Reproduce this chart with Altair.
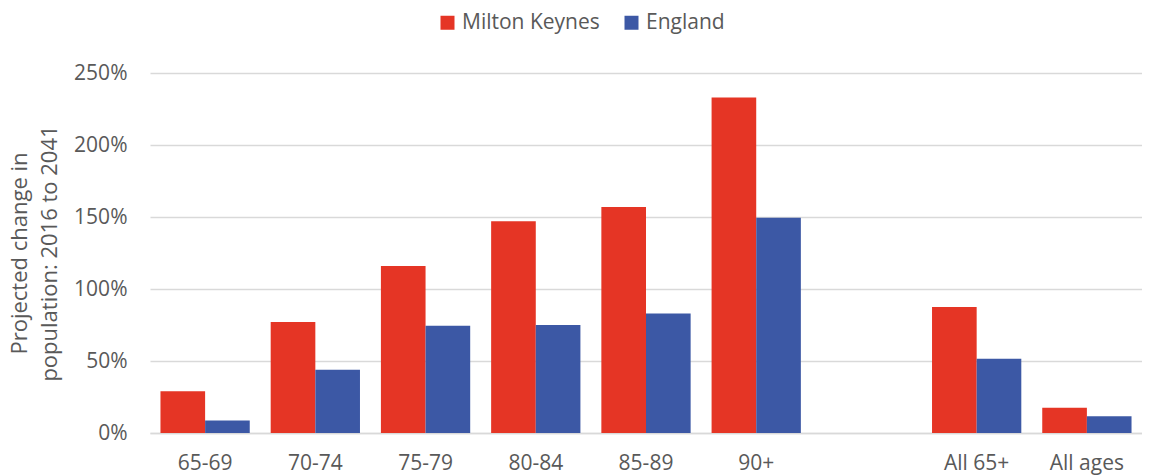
import altair as alt
import pandas as pd

categories = ["65-69", "70-74", "75-79", "80-84", "85-89", "90+", "All 65+", "All ages"]
axis_order = ["65-69", "70-74", "75-79", "80-84", "85-89", "90+", " ", "All 65+", "All ages"]
milton_keynes = [29, 77, 116, 147, 157, 233, 87.5, 17.5]
england = [8.7, 44, 74.5, 75, 83, 149.5, 51.5, 11.7]
series = ["Milton Keynes", "England"]
colors = ["#E53525", "#3C58A5"]
y_ticks = [0, 50, 100, 150, 200, 250]

rows = []
for c, a, b in zip(categories, milton_keynes, england):
    rows.append({"age": c, "series": series[0], "value": a})
    rows.append({"age": c, "series": series[1], "value": b})
df = pd.DataFrame(rows)

FONT = "Open Sans"
TEXT = "#595959"
GRID = "#D9D9D9"

chart = alt.Chart(df).mark_bar().encode(
    x=alt.X(
        "age:N",
        sort=axis_order,
        scale=alt.Scale(domain=axis_order, paddingInner=0.19, paddingOuter=0.095),
        axis=alt.Axis(
            title=None, labelAngle=0, labelFontSize=21, labelColor=TEXT, labelFont=FONT,
            labelPadding=19, ticks=False, domainColor=GRID, domainWidth=1.5, grid=False,
        ),
    ),
    xOffset=alt.XOffset("series:N", sort=series, scale=alt.Scale(domain=series)),
    y=alt.Y(
        "value:Q",
        scale=alt.Scale(domain=[0, 250]),
        axis=alt.Axis(
            values=y_ticks, labelExpr="datum.value + '%'",
            title=["Projected change in", "population: 2016 to 2041"],
            domain=False, ticks=False, grid=True, gridColor=GRID, gridWidth=1.5,
            labelPadding=23, labelFontSize=21, labelColor=TEXT, labelFont=FONT,
            titleFontSize=22, titleFont=FONT, titleFontWeight="normal", titleColor=TEXT,
            titleAngle=270, titleAlign="center", titleBaseline="alphabetic",
            titleX=-124, titleY=180, titleLineHeight=30,
        ),
    ),
    color=alt.Color(
        "series:N",
        sort=series,
        scale=alt.Scale(domain=series, range=colors),
        legend=alt.Legend(
            title=None, orient="none", legendX=287, legendY=-61, direction="horizontal",
            symbolType="square", symbolSize=196, symbolStrokeWidth=0,
            labelFontSize=21, labelColor=TEXT, labelFont=FONT, labelOffset=4,
            columnPadding=21, padding=0,
        ),
    ),
).properties(
    width=992,
    height=360,
    autosize=alt.AutoSizeParams(type="none"),
    padding={"left": 142, "top": 65, "right": 0, "bottom": 42},
).configure_view(stroke=None)

chart.save("out.html", embed_options={"renderer": "svg", "actions": False})
